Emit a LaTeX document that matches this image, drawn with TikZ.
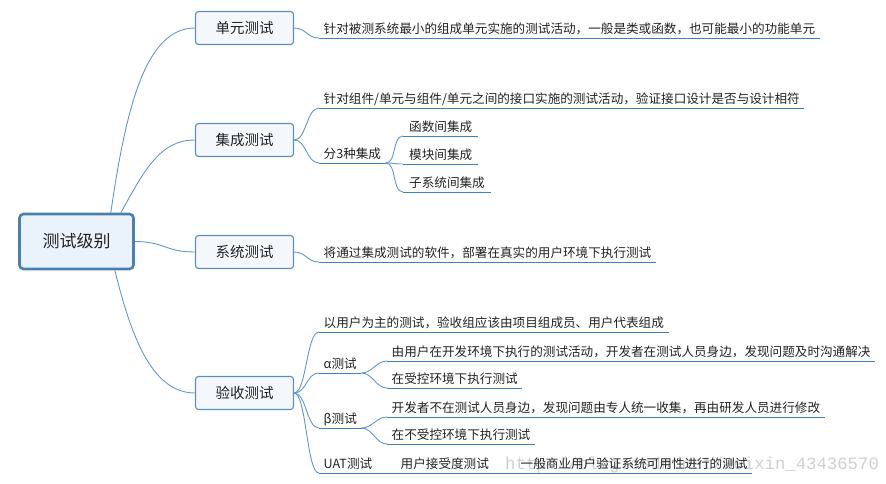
\documentclass[tikz,border=0pt]{standalone}
\usepackage{fontspec}
\setmainfont{Noto Sans CJK SC}
\newfontfamily\wmfont{Liberation Mono}
\definecolor{rootc}{HTML}{4A80AC}
\definecolor{rootfill}{HTML}{EAF2FB}
\definecolor{boxc}{HTML}{5A8FBE}
\definecolor{boxfill}{HTML}{F4F8FD}
\definecolor{linkc}{HTML}{6398C6}
\definecolor{ulc}{HTML}{3B82BE}
\definecolor{txt}{HTML}{222222}
\definecolor{wmc}{HTML}{CFCFCF}
\begin{document}
\begin{tikzpicture}[x=1pt,y=-1pt,
  root/.style={draw=rootc, line width=2.6pt, fill=rootfill, rounded corners=4pt,
    minimum width=114pt, minimum height=55pt, font=\fontsize{17}{20}\selectfont, text=txt},
  topic/.style={draw=boxc, line width=1.1pt, fill=boxfill, rounded corners=3pt,
    minimum width=98pt, minimum height=33pt, font=\fontsize{14.5}{17}\selectfont, text=txt},
  leaf/.style={anchor=south west, inner xsep=4.5pt, inner ysep=2pt, text height=10pt,
    text depth=2.5pt, font=\fontsize{12.6}{15}\selectfont, text=txt},
  link/.style={draw=linkc, line width=0.9pt},
  uline/.style={draw=ulc, line width=1pt},
]
\useasboundingbox (0,0) rectangle (886,483);

% watermark
\node[anchor=base west, inner sep=0pt, text=wmc, font=\wmfont\fontsize{17.3}{20}\selectfont] (wm) at (505,469) {http://blog.csdn.net/weixin\_43436570};

% root and topics
\node[root] (root) at (76.5,241.5) {测试级别};
\node[topic] (t1) at (244.5,28) {单元测试};
\node[topic] (t2) at (244.5,140) {集成测试};
\node[topic] (t3) at (244.5,252) {系统测试};
\node[topic] (t4) at (244.5,393) {验收测试};

\draw[link] ([xshift=-24pt]root.north east) .. controls +(15,-103) and +(-50,0) .. (t1.west);
\draw[link] ([xshift=-14pt]root.north east) .. controls +(24,-43) and +(-35,0) .. (t2.west);
\draw[link] (root.east) .. controls +(30,0) and +(-30,0) .. (t3.west);
\draw[link] ([xshift=-20pt]root.south east) .. controls +(15,60) and +(-45,0) .. (t4.west);

% leaves
\node[leaf] (l1) at (319,38) {针对被测系统最小的组成单元实施的测试活动，一般是类或函数，也可能最小的功能单元};
\node[leaf] (l2a) at (319,108) {针对组件/单元与组件/单元之间的接口实施的测试活动，验证接口设计是否与设计相符};
\node[leaf] (l2b) at (319,163) {分3种集成};
\node[leaf, inner xsep=6pt] (l2b1) at (403,136) {函数间集成};
\node[leaf, inner xsep=6pt] (l2b2) at (403,164) {模块间集成};
\node[leaf, inner xsep=6pt] (l2b3) at (403,192) {子系统间集成};
\node[leaf] (l3) at (319,262) {将通过集成测试的软件，部署在真实的用户环境下执行测试};
\node[leaf] (l4a) at (319,332) {以用户为主的测试，验收组应该由项目组成员、用户代表组成};
\node[leaf] (l4b) at (319,373) {α测试};
\node[leaf] (l4b1) at (387,361) {由用户在开发环境下执行的测试活动，开发者在测试人员身边，发现问题及时沟通解决};
\node[leaf] (l4b2) at (387,388) {在受控环境下执行测试};
\node[leaf] (l4c) at (319,428) {β测试};
\node[leaf] (l4c1) at (387,417) {开发者不在测试人员身边，发现问题由专人统一收集，再由研发人员进行修改};
\node[leaf] (l4c2) at (387,444) {在不受控环境下执行测试};
\node[leaf] (l4d) at (319,473) {UAT测试};
\node[leaf] (l4d2) at (396,473) {用户接受度测试};
\node[leaf] (l4d3) at (516,473) {一般商业用户验证系统可用性进行的测试};

% connectors to leaves
\foreach \p/\c in {t1/l1, t2/l2a, t2/l2b, t3/l3, t4/l4a, t4/l4b, t4/l4c, t4/l4d}{
  \draw[link] (\p.east) .. controls +(12.5,0) and +(-12.5,0) .. (\c.south west);
}
\foreach \p/\c in {l2b/l2b1, l2b/l2b2, l2b/l2b3, l4b/l4b1, l4b/l4b2, l4c/l4c1, l4c/l4c2}{
  \draw[link] (\p.south east) .. controls +(11,0) and +(-11,0) .. (\c.south west);
}
\foreach \c in {l1, l2a, l2b, l2b1, l2b2, l2b3, l3, l4a, l4b, l4b1, l4b2, l4c, l4c1, l4c2}{
  \draw[uline] (\c.south west) -- (\c.south east);
}
\draw[uline] (l4d.south west) -- (l4d3.south east);
\end{tikzpicture}
\end{document}
